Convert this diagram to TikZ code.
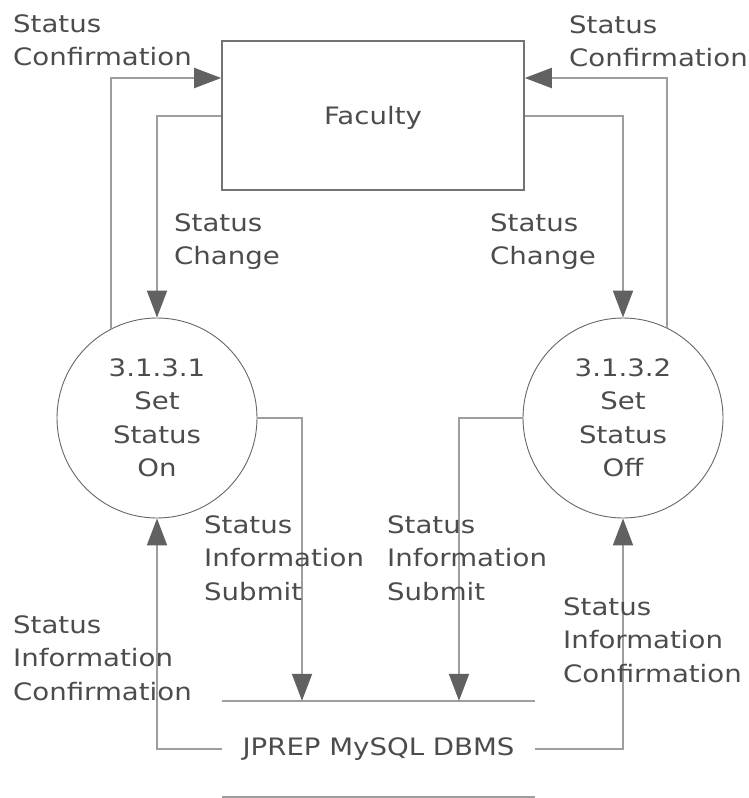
\documentclass[tikz,border=0pt]{standalone}
\usepackage{fontspec}
\setmainfont{DejaVu Sans}[FakeStretch=1.15]
\usetikzlibrary{arrows.meta}

\newcommand*{\procsize}{200pt}
\newcommand*{\dfdfont}{\fontsize{24}{33.5}\selectfont}

\begin{document}
\begin{tikzpicture}
[
	x=1pt,y=-1pt,
	every node/.style={font=\dfdfont,text=black!70},
	entity/.style={rectangle,draw=black!55,line width=1.6pt,minimum width=302pt,minimum height=149pt,text depth=0pt},
	process/.style={circle,draw=black!60,line width=0.9pt,minimum size=\procsize,inner sep=0pt,align=center},
	store/.style={minimum width=313pt,minimum height=96pt,inner sep=0pt},
	flow/.style={draw=black!38,line width=2pt,-{Triangle[length=27pt,width=20pt,color=black!62]}},
	flowtext/.style={anchor=north west,align=left,inner sep=0pt}
]
	\useasboundingbox (0,0) rectangle (749,798);

	% external entity, processes, data store
	\node[entity] (faculty) at (373,115.5) {Faculty};
	\node[process] (on) at (157,418) {3.1.3.1\\Set\\Status\\On};
	\node[process] (off) at (623,418) {3.1.3.2\\Set\\Status\\Off};
	\node[store] (db) at (378.5,749) {JPREP MySQL DBMS};
	\draw[black!38,line width=2pt] (db.north west) -- (db.north east);
	\draw[black!38,line width=2pt] (db.south west) -- (db.south east);

	% flows between faculty and processes
	\draw[flow] (on.117) |- ([yshift=37.5pt]faculty.west);
	\draw[flow] (faculty.west) -| (on.north);
	\draw[flow] (off.64) |- ([yshift=37.5pt]faculty.east);
	\draw[flow] (faculty.east) -| (off.north);

	% flows between processes and data store
	\draw[flow] (on.east) -| ([xshift=-76.5pt]db.north);
	\draw[flow] (off.west) -| ([xshift=80.5pt]db.north);
	\draw[flow] (db.west) -| (on.south);
	\draw[flow] (db.east) -| (off.south);

	\node[flowtext] (confon) at (13,14) {Status\\Confirmation};
	\node[flowtext] (confoff) at (569,15) {Status\\Confirmation};
	\node[flowtext] (changeon) at (174,213) {Status\\Change};
	\node[flowtext] (changeoff) at (490,213) {Status\\Change};
	\node[flowtext] (submiton) at (204,515) {Status\\Information\\Submit};
	\node[flowtext] (submitoff) at (387,515) {Status\\Information\\Submit};
	\node[flowtext] (infoon) at (13,615) {Status\\Information\\Confirmation};
	\node[flowtext] (infooff) at (563,597) {Status\\Information\\Confirmation};

\end{tikzpicture}
\end{document}
